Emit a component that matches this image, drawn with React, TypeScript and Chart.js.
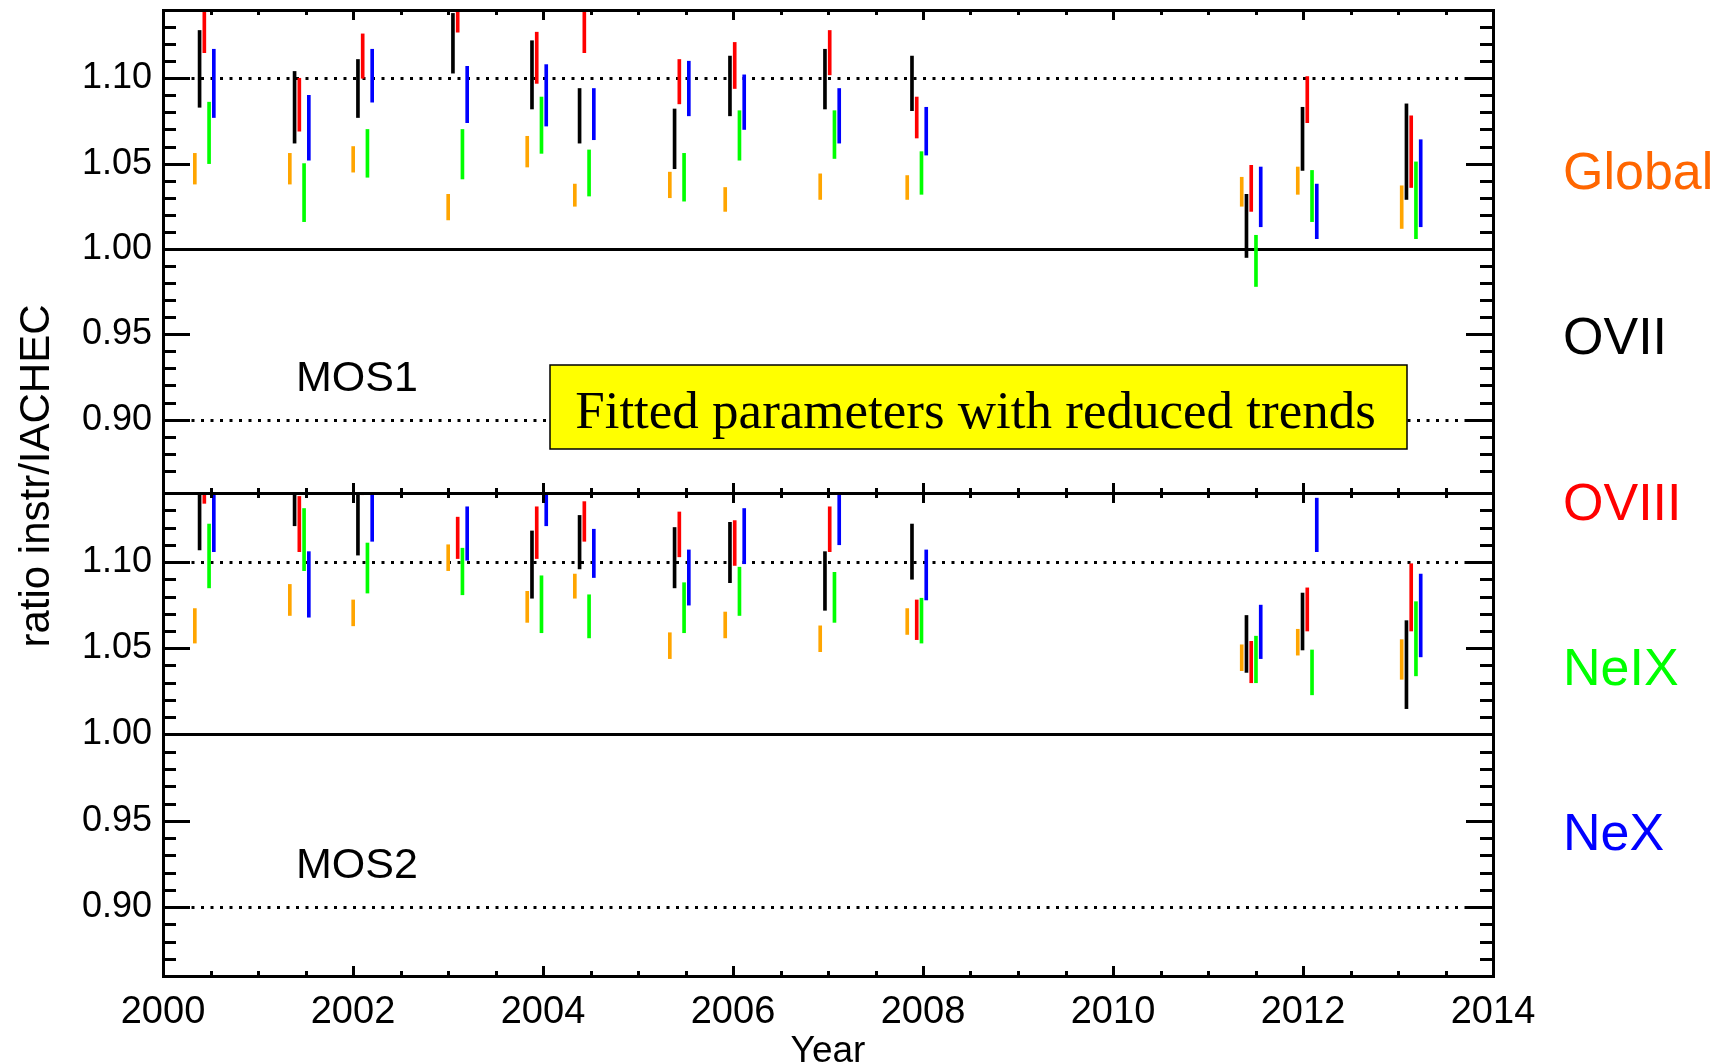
import React, { useEffect, useRef } from 'react';
import { Chart, registerables } from 'chart.js';

Chart.register(...registerables);

const SANS = '"Liberation Sans", Arial, Helvetica, sans-serif';
const SERIF = '"Liberation Serif", "Times New Roman", Times, serif';

// Observation epochs (decimal year of the OVIII bar; the other lines sit beside it)
const EPOCHS = [
  2000.435, 2001.435, 2002.102, 2003.102, 2003.934, 2004.435, 2005.435,
  2006.018, 2007.018, 2007.934, 2011.455, 2012.045, 2013.139,
];

const SERIES_NAMES = ['Global', 'OVII', 'OVIII', 'NeIX', 'NeX'];
const BAR_COLORS = ['#FFA500', '#000000', '#FF0000', '#00FF00', '#0000FF'];
const LABEL_COLORS = ['#FF6600', '#000000', '#FF0000', '#00FF00', '#0000FF'];

// Labelled tick values
const Y_LABELED = [0.9, 0.95, 1.0, 1.05, 1.1];
const X_LABELED = [2000, 2002, 2004, 2006, 2008, 2010, 2012, 2014];

// MOS1 ratio ranges [low, high]
const mos1Global = [[1.038, 1.056], [1.038, 1.056], [1.045, 1.060], [1.017, 1.032], [1.048, 1.066], [1.025, 1.038], [1.030, 1.045], [1.022, 1.036], [1.029, 1.044], [1.029, 1.043], [1.025, 1.042], [1.032, 1.048], [1.012, 1.037]];
const mos1OVII = [[1.083, 1.128], [1.062, 1.104], [1.077, 1.111], [1.103, 1.138], [1.082, 1.122], [1.062, 1.094], [1.047, 1.082], [1.078, 1.113], [1.082, 1.117], [1.081, 1.113], [0.995, 1.032], [1.046, 1.083], [1.029, 1.085]];
const mos1OVIII = [[1.115, 1.150], [1.069, 1.100], [1.100, 1.126], [1.127, 1.150], [1.097, 1.127], [1.115, 1.150], [1.085, 1.111], [1.094, 1.121], [1.102, 1.128], [1.065, 1.089], [1.022, 1.049], [1.074, 1.101], [1.036, 1.078]];
const mos1NeIX = [[1.050, 1.086], [1.016, 1.050], [1.042, 1.070], [1.041, 1.070], [1.056, 1.089], [1.031, 1.058], [1.028, 1.056], [1.052, 1.081], [1.053, 1.081], [1.032, 1.057], [0.978, 1.008], [1.016, 1.046], [1.006, 1.051]];
const mos1NeX = [[1.077, 1.117], [1.052, 1.090], [1.086, 1.117], [1.074, 1.107], [1.072, 1.108], [1.064, 1.094], [1.078, 1.110], [1.070, 1.102], [1.062, 1.094], [1.055, 1.083], [1.013, 1.048], [1.006, 1.038], [1.013, 1.064]];

// MOS2 ratio ranges [low, high]
const mos2Global = [[1.053, 1.073], [1.069, 1.087], [1.063, 1.078], [1.095, 1.110], [1.065, 1.083], [1.079, 1.093], [1.044, 1.059], [1.056, 1.071], [1.048, 1.063], [1.058, 1.073], [1.037, 1.052], [1.046, 1.061], [1.032, 1.055]];
const mos2OVII = [[1.107, 1.150], [1.121, 1.150], [1.104, 1.150], null, [1.079, 1.118], [1.096, 1.127], [1.085, 1.120], [1.088, 1.123], [1.072, 1.106], [1.090, 1.122], [1.036, 1.069], [1.049, 1.082], [1.015, 1.066]];
const mos2OVIII = [[1.134, 1.150], [1.106, 1.138], [1.139, 1.150], [1.102, 1.126], [1.102, 1.132], [1.112, 1.135], [1.103, 1.129], [1.098, 1.124], [1.106, 1.132], [1.055, 1.078], [1.030, 1.054], [1.060, 1.085], [1.060, 1.099]];
const mos2NeIX = [[1.085, 1.122], [1.095, 1.131], [1.082, 1.111], [1.081, 1.108], [1.059, 1.092], [1.056, 1.081], [1.059, 1.088], [1.069, 1.097], [1.065, 1.094], [1.053, 1.079], [1.030, 1.057], [1.023, 1.049], [1.034, 1.077]];
const mos2NeX = [[1.106, 1.150], [1.068, 1.106], [1.112, 1.150], [1.101, 1.132], [1.121, 1.150], [1.091, 1.119], [1.075, 1.107], [1.099, 1.131], [1.110, 1.142], [1.078, 1.107], [1.044, 1.075], [1.106, 1.137], [1.045, 1.093]];

const PANELS = [
  { id: 'yTop', name: 'MOS1', min: 0.857, weight: 2, series: [mos1Global, mos1OVII, mos1OVIII, mos1NeIX, mos1NeX] },
  { id: 'yBot', name: 'MOS2', min: 0.86, weight: 1, series: [mos2Global, mos2OVII, mos2OVIII, mos2NeIX, mos2NeX] },
];

// horizontal spread of the five lines around each epoch (years)
const LINE_OFFSETS = [-0.1, -0.05, 0, 0.05, 0.1];
const DOTTED_LEVELS = [0.9, 1.1];
const UNITY = 1.0;

function buildDatasets() {
  const out: any[] = [];
  PANELS.forEach((panel) => {
    panel.series.forEach((ranges, k) => {
      const data = ranges
        .map((r, i) => (r ? { x: EPOCHS[i] + LINE_OFFSETS[k], y: r } : null))
        .filter((p) => p !== null);
      out.push({
        label: `${panel.name} ${SERIES_NAMES[k]}`,
        yAxisID: panel.id,
        data,
        backgroundColor: BAR_COLORS[k],
        borderWidth: 0,
        barThickness: 3,
        grouped: false,
      });
    });
  });
  return out;
}

const isMultiple = (v: number, step: number) => Math.abs(v / step - Math.round(v / step)) < 1e-6;

const yLabel = (value: any) => {
  const v = Number(value);
  return Y_LABELED.some((t) => Math.abs(t - v) < 1e-6) ? v.toFixed(2) : '';
};
const xLabel = (value: any) => {
  const v = Number(value);
  return X_LABELED.some((t) => Math.abs(t - v) < 1e-6) ? String(Math.round(v)) : '';
};

const crisp = (p: number) => Math.round(p) + 0.5;

const panelDecor = {
  id: 'panelDecor',
  beforeDatasetsDraw(chart: any) {
    const { ctx } = chart;
    const xs = chart.scales.x;
    ctx.save();
    ctx.strokeStyle = '#000';
    ctx.lineWidth = 3;
    for (const p of PANELS) {
      const ys = chart.scales[p.id];
      ctx.setLineDash([3, 6.5]);
      for (const v of DOTTED_LEVELS) {
        const py = crisp(ys.getPixelForValue(v));
        ctx.beginPath();
        ctx.moveTo(xs.left, py);
        ctx.lineTo(xs.right, py);
        ctx.stroke();
      }
      ctx.setLineDash([]);
      const py = crisp(ys.getPixelForValue(UNITY));
      ctx.beginPath();
      ctx.moveTo(xs.left, py);
      ctx.lineTo(xs.right, py);
      ctx.stroke();
    }
    ctx.restore();
  },
  beforeDatasetDraw(chart: any, args: any) {
    const { ctx } = chart;
    const xs = chart.scales.x;
    const ys = args.meta.yScale;
    ctx.save();
    ctx.beginPath();
    ctx.rect(xs.left, ys.top, xs.right - xs.left, ys.bottom - ys.top);
    ctx.clip();
  },
  afterDatasetDraw(chart: any) {
    chart.ctx.restore();
  },
  afterDatasetsDraw(chart: any) {
    const { ctx, chartArea } = chart;
    const xs = chart.scales.x;
    ctx.save();
    ctx.strokeStyle = '#000';
    ctx.lineWidth = 3;
    ctx.lineCap = 'butt';
    const seg = (x0: number, y0: number, x1: number, y1: number) => {
      ctx.beginPath();
      ctx.moveTo(x0, y0);
      ctx.lineTo(x1, y1);
      ctx.stroke();
    };
    for (const p of PANELS) {
      const ys = chart.scales[p.id];
      // ratio ticks on both vertical edges, pointing inward
      for (const t of ys.ticks) {
        const v = t.value;
        if (!isMultiple(v, 0.01)) continue;
        const len = isMultiple(v, 0.05) ? 27 : 13;
        const py = crisp(ys.getPixelForValue(v));
        seg(xs.left, py, xs.left + len, py);
        seg(xs.right, py, xs.right - len, py);
      }
      // year ticks on the top and bottom edge of each panel
      for (const t of xs.ticks) {
        const v = t.value;
        const len = isMultiple(v, 2) ? 10 : 5;
        const px = crisp(xs.getPixelForValue(v));
        seg(px, ys.top, px, ys.top + len);
        seg(px, ys.bottom, px, ys.bottom - len);
      }
      seg(xs.left, crisp(ys.top), xs.right, crisp(ys.top));
    }
    // outer frame
    ctx.strokeRect(crisp(chartArea.left), crisp(chartArea.top), Math.round(chartArea.right - chartArea.left), Math.round(chartArea.bottom - chartArea.top));
    ctx.restore();
  },
  afterDraw(chart: any) {
    const { ctx, chartArea } = chart;
    const xs = chart.scales.x;
    const top = chart.scales.yTop;
    ctx.save();

    // note box in the MOS1 panel
    const bx0 = Math.round(xs.getPixelForValue(2004.07));
    const bx1 = Math.round(xs.getPixelForValue(2013.09));
    const by0 = Math.round(top.getPixelForValue(0.932));
    const by1 = Math.round(top.getPixelForValue(0.883));
    ctx.fillStyle = '#FFFF00';
    ctx.fillRect(bx0, by0, bx1 - bx0, by1 - by0);
    ctx.strokeStyle = '#000';
    ctx.lineWidth = 1.5;
    ctx.strokeRect(bx0, by0, bx1 - bx0, by1 - by0);
    ctx.fillStyle = '#000';
    ctx.font = `53px ${SERIF}`;
    ctx.textAlign = 'center';
    ctx.textBaseline = 'alphabetic';
    ctx.fillText('Fitted parameters with reduced trends', (bx0 + bx1) / 2 - 3, (by0 + by1) / 2 + 21);

    // panel names
    ctx.font = `43px ${SANS}`;
    ctx.textAlign = 'left';
    for (const p of PANELS) {
      const ys = chart.scales[p.id];
      ctx.fillText(p.name, xs.getPixelForValue(2001.4), ys.getPixelForValue(0.917));
    }

    // line names on the right
    ctx.font = `52px ${SANS}`;
    SERIES_NAMES.forEach((name, k) => {
      ctx.fillStyle = LABEL_COLORS[k];
      ctx.fillText(name, chartArea.right + 70, 189 + k * 165.3);
    });

    // shared ratio axis title
    ctx.fillStyle = '#000';
    ctx.font = `42px ${SANS}`;
    ctx.translate(37, 476);
    ctx.rotate(-Math.PI / 2);
    ctx.textAlign = 'center';
    ctx.textBaseline = 'middle';
    ctx.fillText('ratio instr/IACHEC', 0, 0);
    ctx.restore();
  },
};

function yScale(panel: any) {
  return {
    type: 'linear',
    position: 'left',
    stack: 'mos',
    stackWeight: 1,
    weight: panel.weight,
    min: panel.min,
    max: 1.14,
    grid: { display: false, drawTicks: false },
    border: { display: false },
    ticks: {
      stepSize: 0.01,
      autoSkip: false,
      padding: 11,
      color: '#000',
      font: { size: 36, family: SANS },
      callback: yLabel,
    },
    afterFit: (s: any) => {
      s.width = 163;
      s.paddingTop = 0;
      s.paddingBottom = 0;
    },
  };
}

export default function App() {
  const canvasRef = useRef<HTMLCanvasElement>(null);

  useEffect(() => {
    if (!canvasRef.current) return;
    const chart = new Chart(canvasRef.current, {
      type: 'bar',
      data: { datasets: buildDatasets() },
      options: {
        responsive: false,
        animation: false,
        events: [],
        layout: { padding: { left: 0, right: 238, top: 10, bottom: 0 } },
        plugins: { legend: { display: false }, tooltip: { enabled: false }, title: { display: false } },
        scales: {
          x: {
            type: 'linear',
            position: 'bottom',
            min: 2000,
            max: 2014,
            offset: false,
            grid: { display: false, drawTicks: false },
            border: { display: false },
            ticks: {
              stepSize: 0.5,
              autoSkip: false,
              maxRotation: 0,
              padding: 14,
              color: '#000',
              font: { size: 38, family: SANS },
              callback: xLabel,
            },
            title: {
              display: true,
              text: 'Year',
              color: '#000',
              font: { size: 37, family: SANS, lineHeight: 0.8 },
              padding: { top: 0, bottom: -3 },
            },
            afterFit: (s: any) => {
              s.height = 88;
              s.paddingLeft = 0;
              s.paddingRight = 0;
            },
          },
          yTop: yScale(PANELS[0]),
          yBot: yScale(PANELS[1]),
        } as any,
      },
      plugins: [panelDecor],
    } as any);
    return () => chart.destroy();
  }, []);

  return (
    <div style={{ position: 'fixed', left: 0, top: 0, width: 1731, height: 1064, background: '#fff' }}>
      <canvas ref={canvasRef} width={1731} height={1064} style={{ display: 'block' }} />
    </div>
  );
}
